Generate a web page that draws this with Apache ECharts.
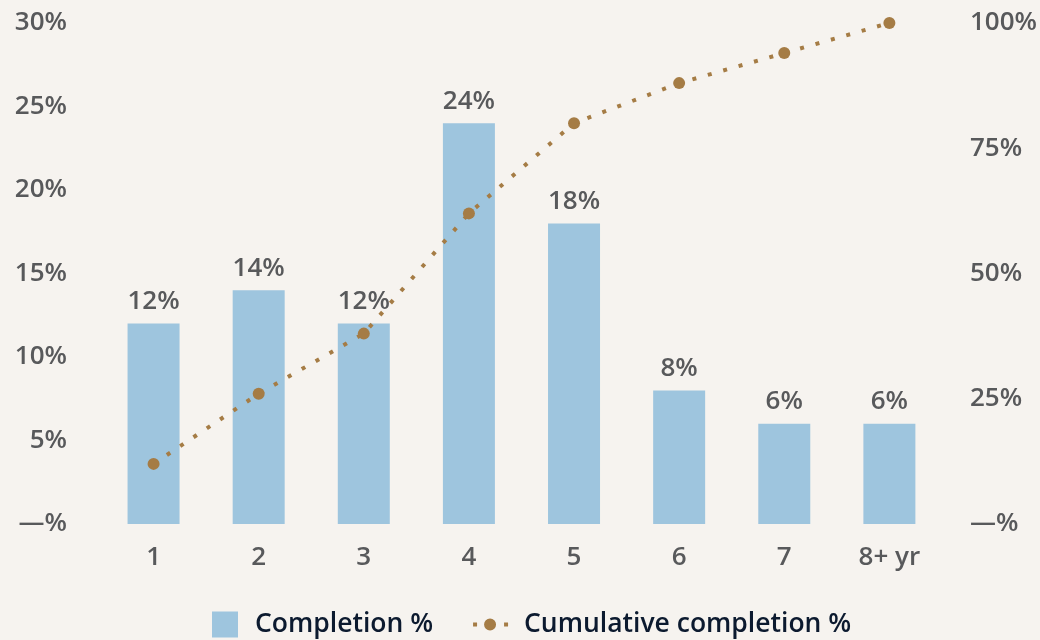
<!DOCTYPE html>
<html>
<head>
<meta charset="utf-8">
<script src="https://cdn.jsdelivr.net/npm/echarts@6/dist/echarts.min.js"></script>
<style>
  html, body { margin: 0; padding: 0; background: #f6f3ef; }
  #chart { width: 1040px; height: 640px; }
</style>
</head>
<body>
<div id="chart"></div>
<script>
// Years to completion
const categories = ['1', '2', '3', '4', '5', '6', '7', '8+ yr'];
// Share completing in each year (%)
const completion = [12, 14, 12, 24, 18, 8, 6, 6];
// Running total of completions (%)
const cumulative = [12, 26, 38, 62, 80, 88, 94, 100];

const FONT = '"Open Sans", "Noto Sans", sans-serif';
const AXIS_TEXT = '#58595b';
const BAR = '#9ec5de';
const GOLD = '#a57c45';
const pct = v => (v === 0 ? '—%' : v + '%');

// Legend glyphs drawn inside a fixed 48x26 box (the leading moves pin the box size)
const BAR_ICON = 'path://M0 0M48 26M10 0h26v26h-26Z';
const LINE_ICON = 'path://M0 0M48 26M2 11h4v4h-4ZM33 11h4v4h-4Z' +
  'M13 13a6 6 0 1 0 12 0a6 6 0 1 0 -12 0Z';

const labelStyle = { color: AXIS_TEXT, fontSize: 26, fontWeight: 600, fontFamily: FONT };

const chart = echarts.init(document.getElementById('chart'));
chart.setOption({
  backgroundColor: '#f6f3ef',
  animation: false,
  textStyle: { fontFamily: FONT },
  grid: { left: 101, right: 96, top: 23, bottom: 116 },
  legend: {
    top: 606,
    left: 197,
    itemGap: 38,
    itemWidth: 48,
    itemHeight: 26,
    textStyle: { fontFamily: FONT, fontSize: 26.5, fontWeight: 600, color: '#0c1a2f' },
    data: [
      { name: 'Completion %', icon: BAR_ICON, itemStyle: { color: BAR } },
      { name: 'Cumulative completion %', icon: LINE_ICON, itemStyle: { color: GOLD } }
    ]
  },
  xAxis: {
    type: 'category',
    data: categories,
    axisLine: { show: false },
    axisTick: { show: false },
    axisLabel: Object.assign({ margin: 21 }, labelStyle)
  },
  yAxis: [
    {
      type: 'value', min: 0, max: 30, interval: 5,
      splitLine: { show: false }, axisLine: { show: false }, axisTick: { show: false },
      axisLabel: Object.assign({ margin: 34, formatter: pct }, labelStyle)
    },
    {
      type: 'value', min: 0, max: 100, interval: 25,
      splitLine: { show: false }, axisLine: { show: false }, axisTick: { show: false },
      axisLabel: Object.assign({ margin: 28, formatter: pct }, labelStyle)
    }
  ],
  series: [
    {
      name: 'Completion %',
      type: 'bar',
      data: completion,
      barWidth: 52,
      itemStyle: { color: BAR },
      label: Object.assign({
        show: true, position: 'top', distance: 9,
        formatter: p => p.value + '%'
      }, labelStyle)
    },
    {
      name: 'Cumulative completion %',
      type: 'line',
      yAxisIndex: 1,
      data: cumulative,
      symbol: 'circle',
      symbolSize: 12,
      itemStyle: { color: GOLD },
      lineStyle: { color: GOLD, width: 4, type: [4, 12] },
      z: 3
    }
  ]
});
</script>
</body>
</html>
